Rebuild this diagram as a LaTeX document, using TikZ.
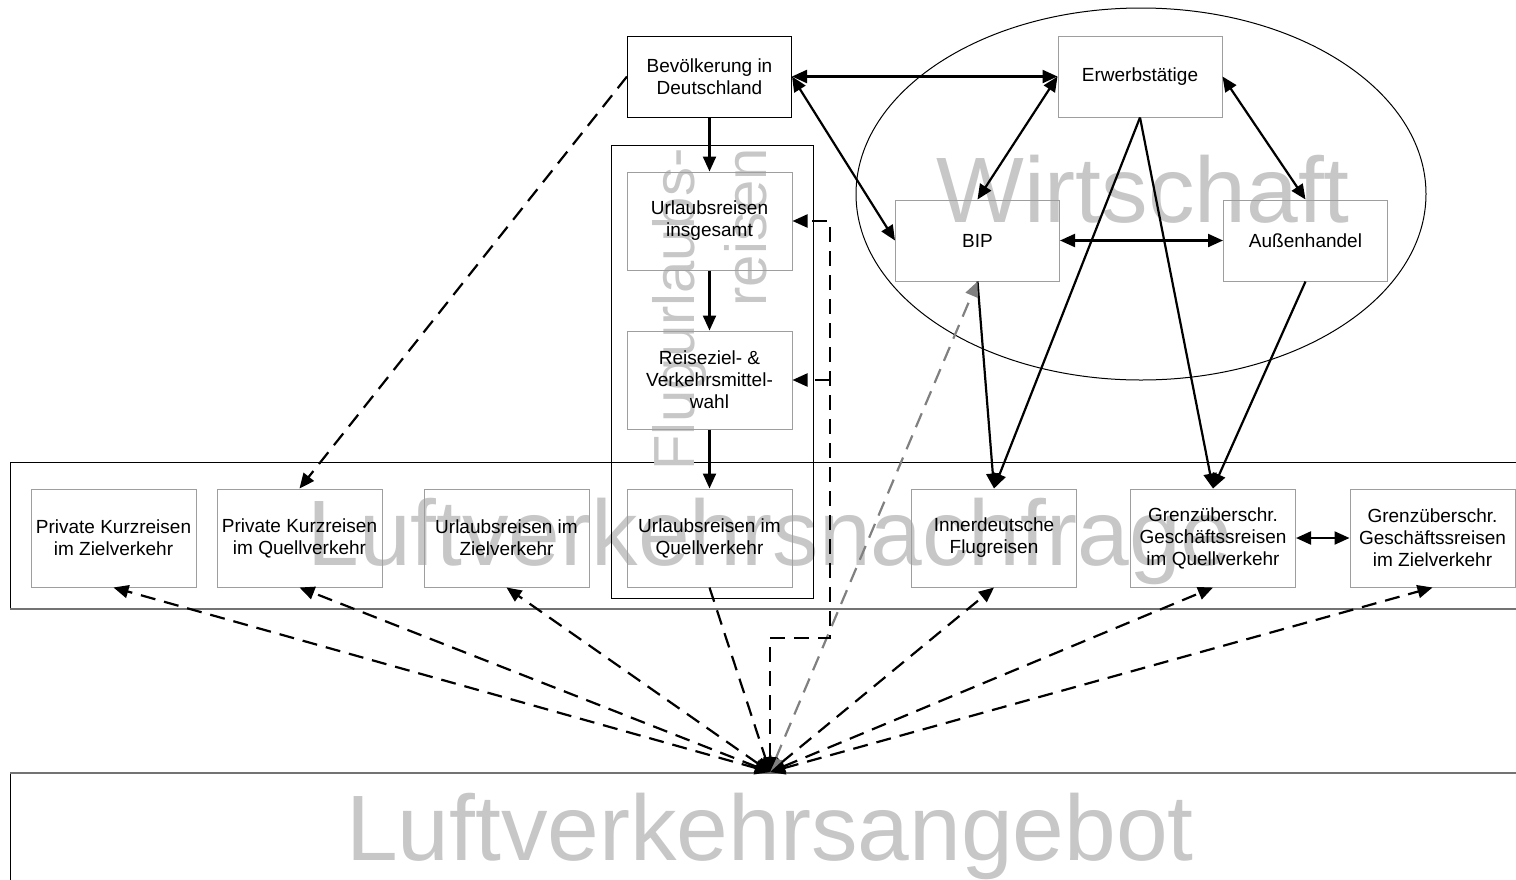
\documentclass[tikz,border=0pt]{standalone}
\usepackage{fontspec}
\setmainfont{Liberation Sans}
\usepackage{tikz}
\usetikzlibrary{arrows.meta}
\usetikzlibrary{positioning}
\tikzset{
    demand/.style={
           rectangle,
           draw=black!38,
           line width=0.5pt,
           minimum width=82.5pt,
           minimum height=49pt,
           inner sep=1pt,
           align=center,
           font=\fontsize{9.5}{11}\selectfont,
           },
    econ/.style={
           demand,
           minimum width=82pt,
           minimum height=40.5pt,
           },
    watermark/.style={
           text=black!22,
           inner sep=0pt,
           font=\fontsize{46.5}{46.5}\selectfont,
           },
    link/.style={<->, line width=1.1pt},
    back/.style={<->, line width=1.1pt, dash pattern=on 7.5pt off 4.5pt},
}

\begin{document}
\begin{tikzpicture}[x=0.5pt,y=-0.5pt,>={Triangle[length=7.5pt,width=6.5pt]}]
 \useasboundingbox (0,0) rectangle (1516,879);

 % Nachfrage und Angebot
 \draw[line width=0.5pt] (10,462) rectangle (1540,609);
 \draw[line width=0.5pt] (10,773) rectangle (1540,920);
 \draw[black!55, line width=0.8pt] (10,609) -- (1540,609);
 \draw[black!55, line width=0.8pt] (10,773) -- (1540,773);

 \node[watermark, anchor=base] (NACHFRAGE) at (770,565) {Luftverkehrsnachfrage};
 \node[watermark, anchor=base] (ANGEBOT) at (770,860) {Luftverkehrsangebot};
 \coordinate (conv) at (770,772);

 % Wirtschaft
 \draw[line width=0.5pt] (1141,194) ellipse [x radius=142.5pt, y radius=93pt];
 \node[watermark, anchor=base] (WIRTSCHAFT) at (1143,222) {Wirtschaft};

 % Flugurlaubsreisen
 \node[draw, line width=0.5pt, minimum width=101pt, minimum height=226.5pt,
 inner sep=0pt] (FLUG) at (712,371.5) {};
 \node[watermark, rotate=90, align=right, anchor=south east,
 font=\fontsize{29}{36}\selectfont] (FLUGTXT) at (767,148)
 {Flugurlaubs-\\reisen};

 \node[econ, draw=black] (BEV) at (709.5,76.5) {Bevölkerung in\\Deutschland};
 \node[demand] (INS) at (709.5,221) {Urlaubsreisen\\insgesamt};
 \node[demand] (WAHL) at (709.5,380) {Reiseziel- \&\\Verkehrsmittel-\\wahl};
 \node[demand] (UQ) at (709.5,538) {Urlaubsreisen im\\Quellverkehr};

 \node[demand] (PKZ) at (113.5,538) {Private Kurzreisen\\im Zielverkehr};
 \node[demand] (PKQ) at (299.5,538) {Private Kurzreisen\\im Quellverkehr};
 \node[demand] (UZ) at (506.5,538) {Urlaubsreisen im\\Zielverkehr};
 \node[demand] (INLAND) at (994,538) {Innerdeutsche\\Flugreisen};
 \node[demand] (GQ) at (1213,538) {Grenzüberschr.\\Geschäftssreisen\\im Quellverkehr};
 \node[demand] (GZ) at (1432.5,538) {Grenzüberschr.\\Geschäftssreisen\\im Zielverkehr};

 \node[econ] (ERW) at (1140,76.5) {Erwerbstätige};
 \node[econ] (BIP) at (977.5,240.5) {BIP};
 \node[econ] (AUSSEN) at (1305.5,240.5) {Außenhandel};

 % solid links
 \draw[link, ->] (BEV) -- (INS);
 \draw[link, ->] (INS) -- (WAHL);
 \draw[link, ->] (WAHL) -- (UQ);
 \draw[link] (BEV.east) -- (ERW.west);
 \draw[link] (BEV.east) -- (BIP.west);
 \draw[link] (ERW.west) -- (BIP.north);
 \draw[link] (ERW.east) -- (AUSSEN.north);
 \draw[link] (BIP) -- (AUSSEN);
 \draw[link] (GQ) -- (GZ);
 \draw[link, ->] (BIP.south) -- (INLAND.north);
 \draw[link, ->] (ERW.south) -- (INLAND.north);
 \draw[link, ->] (ERW.south) -- (GQ.north);
 \draw[link, ->] (AUSSEN.south) -- (GQ.north);

 % dashed links
 \draw[back, ->] (BEV.west) -- (PKQ.north);
 \draw[back] (conv) -- (PKZ.south);
 \draw[back] (conv) -- (PKQ.south);
 \draw[back] (conv) -- (UZ.south);
 \draw[back, ->] (UQ.south) -- (conv);
 \draw[back] (conv) -- (INLAND.south);
 \draw[back] (conv) -- (GQ.south);
 \draw[back] (conv) -- (GZ.south);
 \draw[back, black!50] (conv) -- (BIP.south);

 \coordinate (knee) at (830,638);
 \draw[back] (conv) |- (knee) |- (INS.east);
 \draw[back, ->] (knee |- WAHL.east) -- (WAHL.east);
\end{tikzpicture}
\end{document}
